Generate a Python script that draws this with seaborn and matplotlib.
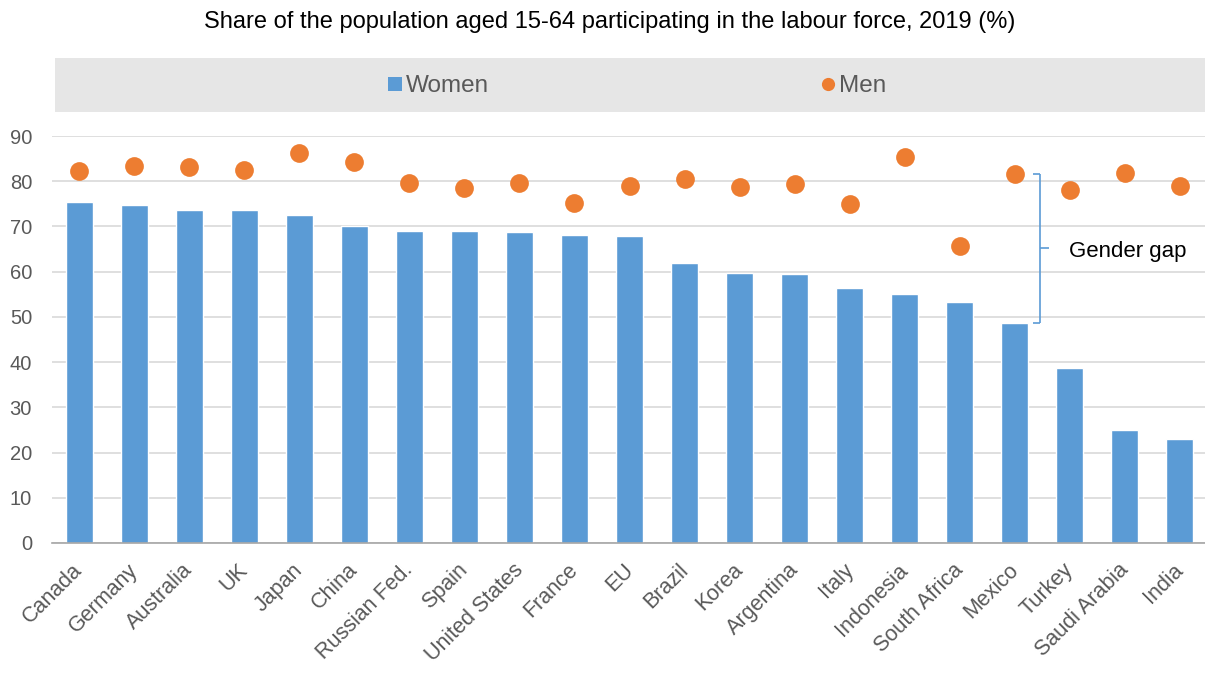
import matplotlib
matplotlib.use("Agg")
import matplotlib.pyplot as plt
from matplotlib.lines import Line2D
from matplotlib.patches import Rectangle
from matplotlib.transforms import ScaledTranslation
import seaborn as sns
import pandas as pd

countries = ["Canada", "Germany", "Australia", "UK", "Japan", "China", "Russian Fed.",
             "Spain", "United States", "France", "EU", "Brazil", "Korea", "Argentina",
             "Italy", "Indonesia", "South Africa", "Mexico", "Turkey", "Saudi Arabia", "India"]
women = [75.5, 74.8, 73.7, 73.6, 72.5, 70.2, 69.1, 68.9, 68.7, 68.1, 67.8,
         62.0, 59.8, 59.4, 56.4, 55.0, 53.3, 48.7, 38.6, 24.9, 22.9]
men = [82.2, 83.4, 83.2, 82.4, 86.3, 84.2, 79.6, 78.4, 79.5, 75.2, 78.9,
       80.5, 78.8, 79.4, 75.0, 85.4, 65.7, 81.7, 78.1, 81.8, 78.9]
yticks = [0, 10, 20, 30, 40, 50, 60, 70, 80, 90]
title = "Share of the population aged 15-64 participating in the labour force, 2019 (%)"
gap_country = "Mexico"

BLUE = "#5B9BD5"
ORANGE = "#ED7D31"
GREY_TXT = "#595959"

sns.set_theme(style="white")
plt.rcParams["font.family"] = ["Liberation Sans", "DejaVu Sans"]

df = pd.DataFrame({"country": countries, "women": women, "men": men})

W, H = 1205, 673
fig = plt.figure(figsize=(W / 100, H / 100), dpi=100)
ax = fig.add_axes([51.5 / W, 1 - 543 / H, 1156 / W, 407 / H])

sns.barplot(data=df, x="country", y="women", color=BLUE, saturation=1,
            width=0.49, ax=ax, zorder=2)
sns.stripplot(data=df, x="country", y="men", color=ORANGE, size=13.5,
              jitter=False, linewidth=0, ax=ax, zorder=3)

ax.set_xlim(-0.5, len(countries) - 0.5)
ax.set_ylim(0, 90)
ax.set_yticks(yticks)
ax.set_yticklabels([str(v) for v in yticks], fontsize=14.5, color=GREY_TXT)
ax.set_xlabel("")
ax.set_ylabel("")
ax.yaxis.grid(True, color="#D9D9D9", linewidth=1.2, zorder=0)
ax.set_axisbelow(True)
for s in ["top", "right", "left"]:
    ax.spines[s].set_visible(False)
ax.spines["bottom"].set_color("#A6A6A6")
ax.spines["bottom"].set_linewidth(1.2)
ax.tick_params(axis="both", length=0)
ax.tick_params(axis="y", pad=14)
ax.set_xticks(range(len(countries)))
ax.set_xticklabels(countries, rotation=45, ha="right", va="top",
                   rotation_mode="anchor", fontsize=15.5, color=GREY_TXT)
ax.tick_params(axis="x", pad=12)
off = ScaledTranslation(-7 / 100, 0, fig.dpi_scale_trans)
for lab in ax.get_xticklabels():
    lab.set_transform(lab.get_transform() + off)

# Gender gap bracket
i = countries.index(gap_country)
top = men[i]
bot = women[i]
mid = (top + bot) / 2
bx = i + 0.455
bkw = dict(color=BLUE, linewidth=1.2, solid_capstyle="butt", zorder=4, clip_on=False)
ax.plot([i + 0.33, bx], [top, top], **bkw)
ax.plot([i + 0.33, bx], [bot, bot], **bkw)
ax.plot([bx, bx], [bot, top], **bkw)
ax.plot([bx, i + 0.62], [mid, mid], **bkw)
ax.text(i + 0.99, mid - 0.8, "Gender gap", fontsize=16, color="black",
        ha="left", va="center")

# Title
fig.text(610 / W, 1 - 22 / H, title, ha="center", va="center", fontsize=17, color="black")

# Legend band
fig.patches.append(Rectangle((55 / W, 1 - 112 / H), (W - 55) / W, 54 / H,
                             transform=fig.transFigure, facecolor="#E6E6E6",
                             edgecolor="none", zorder=0))
handles = [Line2D([], [], marker="s", linestyle="none", color=BLUE, markersize=9.5,
                  markeredgewidth=0),
           Line2D([], [], marker="o", linestyle="none", color=ORANGE, markersize=9.5,
                  markeredgewidth=0)]
fig.legend(handles, ["Women", "Men"], loc="center", bbox_to_anchor=(637 / W, 1 - 86 / H),
           ncol=2, frameon=False, fontsize=17.5, labelcolor=GREY_TXT,
           handlelength=0.6, handletextpad=0.15, columnspacing=13.65)

fig.savefig("out.png", dpi=100)
